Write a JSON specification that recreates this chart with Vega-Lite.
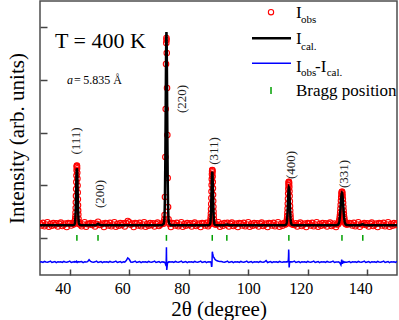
{
"$schema": "https://vega.github.io/schema/vega-lite/v6.json",
"width": 357, "height": 274,
"autosize": {"type": "none"},
"padding": {"left": 40, "top": 1, "right": 2, "bottom": 45},
"config": {"view": {"stroke": "#4d4d4d", "strokeWidth": 1.5}, "font": "Liberation Serif"},
"datasets": {
"p": [
{"x":30,"o":1550,"c":1490,"d":90},{"x":30.5,"o":1480,"c":1490,"d":105},{"x":31,"o":1580,"c":1490,"d":80},{"x":31.5,"o":1450,"c":1490,"d":115},{"x":32,"o":1520,"c":1490,"d":95},{"x":32.5,"o":1600,"c":1490,"d":85},{"x":33,"o":1430,"c":1490,"d":100},{"x":33.5,"o":1530,"c":1490,"d":125},{"x":34,"o":1470,"c":1490,"d":75},{"x":34.5,"o":1570,"c":1490,"d":95},{"x":35,"o":1500,"c":1490,"d":110},{"x":35.5,"o":1560,"c":1490,"d":70},{"x":36,"o":1440,"c":1490,"d":105},{"x":36.5,"o":1540,"c":1490,"d":90},{"x":37,"o":1590,"c":1490,"d":105},{"x":37.5,"o":1460,"c":1490,"d":80},{"x":38,"o":1510,"c":1490,"d":115},{"x":38.5,"o":1550,"c":1490,"d":95},{"x":39,"o":1420,"c":1490,"d":85},{"x":39.5,"o":1570,"c":1490,"d":100},{"x":40,"o":1550,"c":1490,"d":125},{"x":40.5,"o":1480,"c":1490,"d":75},{"x":41,"o":1580,"c":1490,"d":95},
{"x":41.4,"o":1523,"c":1503,"d":100},{"x":41.6,"o":1541,"c":1520,"d":90},{"x":41.7,"o":1575,"c":1553,"d":105},{"x":41.8,"o":1658,"c":1633,"d":95},{"x":41.85,"o":1732,"c":1704,"d":95},{"x":41.9,"o":1833,"c":1801,"d":100},{"x":41.95,"o":1971,"c":1935,"d":95},{"x":42,"o":2146,"c":2103,"d":95},{"x":42.05,"o":2357,"c":2306,"d":100},{"x":42.1,"o":2603,"c":2544,"d":100},{"x":42.15,"o":2865,"c":2797,"d":105},{"x":42.2,"o":3132,"c":3054,"d":110},{"x":42.25,"o":3376,"c":3289,"d":115},{"x":42.3,"o":3573,"c":3479,"d":120},{"x":42.35,"o":3703,"c":3605,"d":110},{"x":42.4,"o":3750,"c":3650,"d":90},{"x":42.425,"o":3739,"c":3639,"d":80},{"x":42.475,"o":3649,"c":3553,"d":75},{"x":42.525,"o":3481,"c":3391,"d":80},{"x":42.575,"o":3257,"c":3175,"d":85},{"x":42.625,"o":3000,"c":2926,"d":90},{"x":42.675,"o":2733,"c":2669,"d":95},{"x":42.725,"o":2478,"c":2423,"d":95},{"x":42.775,"o":2247,"c":2201,"d":100},{"x":42.825,"o":2052,"c":2013,"d":95},{"x":42.875,"o":1898,"c":1864,"d":95},{"x":42.95,"o":1732,"c":1704,"d":100},{"x":43.05,"o":1609,"c":1585,"d":95},{"x":43.15,"o":1555,"c":1533,"d":100},{"x":43.3,"o":1530,"c":1509,"d":95},{"x":43.5,"o":1521,"c":1501,"d":100},
{"x":44,"o":1450,"c":1490,"d":110},{"x":44.5,"o":1520,"c":1490,"d":70},{"x":45,"o":1600,"c":1490,"d":105},{"x":45.5,"o":1430,"c":1490,"d":90},{"x":46,"o":1530,"c":1490,"d":105},{"x":46.5,"o":1530,"c":1495,"d":180},{"x":47,"o":1570,"c":1490,"d":115},{"x":47.5,"o":1500,"c":1490,"d":95},{"x":48,"o":1560,"c":1490,"d":85},{"x":48.5,"o":1440,"c":1490,"d":100},{"x":49,"o":1540,"c":1500,"d":125},{"x":49.5,"o":1620,"c":1545,"d":75},{"x":50,"o":1500,"c":1505,"d":95},{"x":50.5,"o":1510,"c":1490,"d":110},{"x":51,"o":1550,"c":1490,"d":70},{"x":51.5,"o":1420,"c":1490,"d":105},{"x":52,"o":1570,"c":1490,"d":90},{"x":52.5,"o":1550,"c":1490,"d":105},{"x":53,"o":1480,"c":1490,"d":80},{"x":53.5,"o":1580,"c":1490,"d":115},{"x":54,"o":1450,"c":1490,"d":95},{"x":54.5,"o":1520,"c":1490,"d":85},{"x":55,"o":1600,"c":1490,"d":100},{"x":55.5,"o":1430,"c":1490,"d":125},{"x":56,"o":1530,"c":1490,"d":75},{"x":56.5,"o":1470,"c":1490,"d":95},{"x":57,"o":1570,"c":1490,"d":110},{"x":57.5,"o":1500,"c":1490,"d":70},{"x":58,"o":1560,"c":1490,"d":105},{"x":58.5,"o":1440,"c":1490,"d":90},{"x":59,"o":1570,"c":1490,"d":145},{"x":59.5,"o":1650,"c":1490,"d":250},{"x":60,"o":1600,"c":1490,"d":195},{"x":60.5,"o":1510,"c":1490,"d":95},{"x":61,"o":1550,"c":1490,"d":85},{"x":61.5,"o":1420,"c":1490,"d":100},{"x":62,"o":1570,"c":1490,"d":125},{"x":62.5,"o":1550,"c":1490,"d":75},{"x":63,"o":1480,"c":1490,"d":95},{"x":63.5,"o":1580,"c":1490,"d":110},{"x":64,"o":1450,"c":1490,"d":70},{"x":64.5,"o":1520,"c":1490,"d":105},{"x":65,"o":1600,"c":1490,"d":90},{"x":65.5,"o":1430,"c":1490,"d":105},{"x":66,"o":1530,"c":1490,"d":80},{"x":66.5,"o":1470,"c":1490,"d":115},{"x":67,"o":1570,"c":1490,"d":95},{"x":67.5,"o":1500,"c":1490,"d":85},{"x":68,"o":1560,"c":1490,"d":100},{"x":68.5,"o":1440,"c":1490,"d":125},{"x":69,"o":1540,"c":1490,"d":75},{"x":69.5,"o":1590,"c":1490,"d":95},{"x":70,"o":1460,"c":1490,"d":110},{"x":70.5,"o":1510,"c":1490,"d":70},{"x":71,"o":1550,"c":1490,"d":105},
{"x":71.5,"o":1550,"c":1534,"d":90},{"x":71.65,"o":1620,"c":1578,"d":100},{"x":71.8,"o":1715,"c":1703,"d":85},{"x":71.87,"o":1876,"c":1869,"d":75},{"x":72.004,"o":2560,"c":2575,"d":65},{"x":72.142,"o":4078,"c":4145,"d":40},{"x":72.255,"o":5900,"c":6036,"d":-20},{"x":72.363,"o":7609,"c":7804,"d":-40},{"x":72.445,"o":8406,"c":8625,"d":250},{"x":72.5,"o":8595,"c":8823,"d":650},{"x":72.535,"o":8520,"c":8742,"d":300},{"x":72.6,"o":8026,"c":8236,"d":-210},{"x":72.697,"o":6697,"c":6858,"d":-120},{"x":72.803,"o":4913,"c":5010,"d":10},{"x":72.92,"o":3281,"c":3323,"d":60},{"x":73.055,"o":2180,"c":2184,"d":80},{"x":73.2,"o":1715,"c":1703,"d":95},{"x":73.35,"o":1590,"c":1578,"d":90},{"x":73.5,"o":1540,"c":1534,"d":100},
{"x":74,"o":1420,"c":1490,"d":90},{"x":74.5,"o":1570,"c":1490,"d":105},{"x":75,"o":1550,"c":1490,"d":80},{"x":75.5,"o":1480,"c":1490,"d":115},{"x":76,"o":1580,"c":1490,"d":95},{"x":76.5,"o":1450,"c":1490,"d":85},{"x":77,"o":1520,"c":1490,"d":100},{"x":77.5,"o":1600,"c":1490,"d":125},{"x":78,"o":1430,"c":1490,"d":75},{"x":78.5,"o":1530,"c":1490,"d":95},{"x":79,"o":1470,"c":1490,"d":110},{"x":79.5,"o":1570,"c":1490,"d":70},{"x":80,"o":1500,"c":1490,"d":105},{"x":80.5,"o":1560,"c":1490,"d":90},{"x":81,"o":1440,"c":1490,"d":105},{"x":81.5,"o":1540,"c":1490,"d":80},{"x":82,"o":1590,"c":1490,"d":115},{"x":82.5,"o":1460,"c":1490,"d":95},{"x":83,"o":1510,"c":1490,"d":85},{"x":83.5,"o":1550,"c":1490,"d":100},{"x":84,"o":1420,"c":1490,"d":125},{"x":84.5,"o":1570,"c":1490,"d":75},{"x":85,"o":1550,"c":1490,"d":95},{"x":85.5,"o":1480,"c":1490,"d":110},{"x":86,"o":1580,"c":1490,"d":70},{"x":86.5,"o":1450,"c":1490,"d":105},
{"x":86.9,"o":1522,"c":1502,"d":95},{"x":87.1,"o":1539,"c":1518,"d":100},{"x":87.2,"o":1570,"c":1549,"d":95},{"x":87.3,"o":1647,"c":1624,"d":100},{"x":87.35,"o":1715,"c":1691,"d":95},{"x":87.4,"o":1809,"c":1782,"d":90},{"x":87.45,"o":1937,"c":1908,"d":85},{"x":87.5,"o":2099,"c":2067,"d":70},{"x":87.55,"o":2294,"c":2257,"d":40},{"x":87.6,"o":2523,"c":2481,"d":0},{"x":87.65,"o":2765,"c":2718,"d":-60},{"x":87.7,"o":3012,"c":2960,"d":-90},{"x":87.75,"o":3238,"c":3181,"d":-70},{"x":87.8,"o":3421,"c":3360,"d":20},{"x":87.85,"o":3541,"c":3477,"d":200},{"x":87.9,"o":3585,"c":3520,"d":420},{"x":87.925,"o":3575,"c":3510,"d":480},{"x":87.975,"o":3492,"c":3429,"d":460},{"x":88.025,"o":3336,"c":3276,"d":430},{"x":88.075,"o":3129,"c":3073,"d":400},{"x":88.125,"o":2890,"c":2840,"d":375},{"x":88.175,"o":2643,"c":2598,"d":350},{"x":88.225,"o":2406,"c":2367,"d":330},{"x":88.275,"o":2193,"c":2158,"d":310},{"x":88.325,"o":2012,"c":1981,"d":295},{"x":88.375,"o":1869,"c":1841,"d":280},{"x":88.45,"o":1715,"c":1691,"d":265},{"x":88.55,"o":1601,"c":1579,"d":245},{"x":88.65,"o":1552,"c":1531,"d":230},{"x":88.8,"o":1529,"c":1508,"d":200},{"x":89,"o":1520,"c":1500,"d":175},
{"x":89.5,"o":1520,"c":1490,"d":140},{"x":90,"o":1600,"c":1490,"d":120},{"x":90.5,"o":1430,"c":1490,"d":110},{"x":91,"o":1530,"c":1490,"d":115},{"x":91.5,"o":1470,"c":1490,"d":95},{"x":92,"o":1570,"c":1490,"d":85},{"x":92.5,"o":1520,"c":1505,"d":100},{"x":93,"o":1580,"c":1515,"d":125},{"x":93.5,"o":1440,"c":1495,"d":75},{"x":94,"o":1540,"c":1490,"d":95},{"x":94.5,"o":1590,"c":1490,"d":110},{"x":95,"o":1460,"c":1490,"d":70},{"x":95.5,"o":1510,"c":1490,"d":105},{"x":96,"o":1550,"c":1490,"d":90},{"x":96.5,"o":1420,"c":1490,"d":105},{"x":97,"o":1570,"c":1490,"d":80},{"x":97.5,"o":1550,"c":1490,"d":115},{"x":98,"o":1480,"c":1490,"d":95},{"x":98.5,"o":1580,"c":1490,"d":85},{"x":99,"o":1450,"c":1490,"d":100},{"x":99.5,"o":1520,"c":1490,"d":125},{"x":100,"o":1600,"c":1490,"d":75},{"x":100.5,"o":1430,"c":1490,"d":95},{"x":101,"o":1530,"c":1490,"d":110},{"x":101.5,"o":1470,"c":1490,"d":70},{"x":102,"o":1570,"c":1490,"d":105},{"x":102.5,"o":1500,"c":1490,"d":90},{"x":103,"o":1560,"c":1490,"d":105},{"x":103.5,"o":1440,"c":1490,"d":80},{"x":104,"o":1540,"c":1490,"d":115},{"x":104.5,"o":1590,"c":1490,"d":95},{"x":105,"o":1460,"c":1490,"d":85},{"x":105.5,"o":1510,"c":1490,"d":100},{"x":106,"o":1550,"c":1490,"d":150},{"x":106.5,"o":1420,"c":1490,"d":75},{"x":107,"o":1570,"c":1490,"d":95},{"x":107.5,"o":1550,"c":1490,"d":110},{"x":108,"o":1480,"c":1490,"d":70},{"x":108.5,"o":1580,"c":1490,"d":105},{"x":109,"o":1450,"c":1490,"d":90},{"x":109.5,"o":1520,"c":1490,"d":105},{"x":110,"o":1600,"c":1490,"d":80},{"x":110.5,"o":1430,"c":1490,"d":115},{"x":111,"o":1530,"c":1490,"d":95},{"x":111.5,"o":1470,"c":1490,"d":85},{"x":112,"o":1570,"c":1490,"d":100},
{"x":112.45,"o":1520,"c":1499,"d":95},{"x":112.69,"o":1533,"c":1510,"d":100},{"x":112.81,"o":1557,"c":1532,"d":95},{"x":112.93,"o":1618,"c":1585,"d":100},{"x":112.99,"o":1671,"c":1632,"d":95},{"x":113.05,"o":1745,"c":1697,"d":95},{"x":113.11,"o":1846,"c":1786,"d":100},{"x":113.17,"o":1973,"c":1898,"d":100},{"x":113.23,"o":2126,"c":2034,"d":105},{"x":113.29,"o":2305,"c":2192,"d":110},{"x":113.35,"o":2496,"c":2360,"d":120},{"x":113.41,"o":2690,"c":2531,"d":140},{"x":113.47,"o":2868,"c":2688,"d":180},{"x":113.53,"o":3011,"c":2814,"d":300},{"x":113.59,"o":3106,"c":2898,"d":570},{"x":113.65,"o":3140,"c":2928,"d":420},{"x":113.68,"o":3132,"c":2921,"d":150},{"x":113.74,"o":3067,"c":2863,"d":-110},{"x":113.8,"o":2944,"c":2755,"d":-60},{"x":113.86,"o":2781,"c":2612,"d":30},{"x":113.92,"o":2594,"c":2446,"d":80},{"x":113.98,"o":2400,"c":2275,"d":95},{"x":114.04,"o":2214,"c":2111,"d":100},{"x":114.1,"o":2046,"c":1963,"d":95},{"x":114.16,"o":1904,"c":1838,"d":100},{"x":114.22,"o":1792,"c":1739,"d":95},{"x":114.31,"o":1671,"c":1632,"d":100},{"x":114.43,"o":1582,"c":1553,"d":95},{"x":114.55,"o":1543,"c":1519,"d":100},{"x":114.73,"o":1525,"c":1503,"d":95},{"x":114.97,"o":1518,"c":1497,"d":100},
{"x":115.5,"o":1500,"c":1490,"d":125},{"x":116,"o":1560,"c":1490,"d":75},{"x":116.5,"o":1440,"c":1490,"d":95},{"x":117,"o":1540,"c":1490,"d":110},{"x":117.5,"o":1590,"c":1490,"d":70},{"x":118,"o":1460,"c":1490,"d":105},{"x":118.5,"o":1510,"c":1490,"d":90},{"x":119,"o":1550,"c":1490,"d":105},{"x":119.5,"o":1420,"c":1490,"d":80},{"x":120,"o":1570,"c":1490,"d":115},{"x":120.5,"o":1550,"c":1490,"d":95},{"x":121,"o":1480,"c":1490,"d":85},{"x":121.5,"o":1580,"c":1490,"d":100},{"x":122,"o":1450,"c":1490,"d":125},{"x":122.5,"o":1520,"c":1490,"d":75},{"x":123,"o":1600,"c":1490,"d":95},{"x":123.5,"o":1430,"c":1490,"d":110},{"x":124,"o":1530,"c":1490,"d":70},{"x":124.5,"o":1470,"c":1490,"d":105},{"x":125,"o":1570,"c":1490,"d":90},{"x":125.5,"o":1500,"c":1490,"d":105},{"x":126,"o":1560,"c":1490,"d":80},{"x":126.5,"o":1440,"c":1490,"d":115},{"x":127,"o":1540,"c":1490,"d":95},{"x":127.5,"o":1590,"c":1490,"d":85},{"x":128,"o":1460,"c":1490,"d":100},{"x":128.5,"o":1510,"c":1490,"d":125},{"x":129,"o":1550,"c":1490,"d":75},{"x":129.5,"o":1420,"c":1490,"d":95},
{"x":129.8,"o":1518,"c":1497,"d":95},{"x":130.14,"o":1528,"c":1507,"d":90},{"x":130.31,"o":1546,"c":1526,"d":100},{"x":130.48,"o":1593,"c":1571,"d":90},{"x":130.565,"o":1634,"c":1612,"d":85},{"x":130.65,"o":1690,"c":1668,"d":80},{"x":130.735,"o":1768,"c":1744,"d":70},{"x":130.82,"o":1865,"c":1840,"d":60},{"x":130.905,"o":1983,"c":1956,"d":40},{"x":130.99,"o":2120,"c":2092,"d":20},{"x":131.075,"o":2267,"c":2236,"d":0},{"x":131.16,"o":2416,"c":2383,"d":-20},{"x":131.245,"o":2552,"c":2517,"d":30},{"x":131.33,"o":2662,"c":2626,"d":120},{"x":131.415,"o":2735,"c":2697,"d":180},{"x":131.5,"o":2761,"c":2723,"d":120},{"x":131.54,"o":2755,"c":2717,"d":80},{"x":131.63,"o":2705,"c":2668,"d":30},{"x":131.71,"o":2611,"c":2575,"d":60},{"x":131.8,"o":2486,"c":2452,"d":140},{"x":131.88,"o":2342,"c":2310,"d":110},{"x":131.97,"o":2193,"c":2163,"d":80},{"x":132.05,"o":2050,"c":2023,"d":90},{"x":132.14,"o":1922,"c":1896,"d":100},{"x":132.22,"o":1813,"c":1788,"d":85},{"x":132.31,"o":1726,"c":1703,"d":90},{"x":132.44,"o":1634,"c":1612,"d":80},{"x":132.61,"o":1565,"c":1544,"d":85},{"x":132.78,"o":1535,"c":1515,"d":90},{"x":133.03,"o":1521,"c":1501,"d":85},{"x":133.37,"o":1516,"c":1496,"d":90},
{"x":134,"o":1570,"c":1490,"d":110},{"x":134.5,"o":1550,"c":1490,"d":70},{"x":135,"o":1480,"c":1490,"d":105},{"x":135.5,"o":1580,"c":1490,"d":90},{"x":136,"o":1450,"c":1490,"d":105},{"x":136.5,"o":1520,"c":1490,"d":80},{"x":137,"o":1600,"c":1490,"d":115},{"x":137.5,"o":1430,"c":1490,"d":95},{"x":138,"o":1530,"c":1505,"d":85},{"x":138.5,"o":1520,"c":1520,"d":100},{"x":139,"o":1570,"c":1500,"d":125},{"x":139.5,"o":1500,"c":1490,"d":75},{"x":140,"o":1560,"c":1490,"d":95},{"x":140.5,"o":1440,"c":1490,"d":110},{"x":141,"o":1540,"c":1490,"d":70},{"x":141.5,"o":1590,"c":1490,"d":105},{"x":142,"o":1460,"c":1490,"d":90},{"x":142.5,"o":1510,"c":1490,"d":105},{"x":143,"o":1550,"c":1490,"d":80},{"x":143.5,"o":1420,"c":1490,"d":115},{"x":144,"o":1570,"c":1490,"d":95},{"x":144.5,"o":1550,"c":1490,"d":85},{"x":145,"o":1480,"c":1490,"d":100},{"x":145.5,"o":1580,"c":1490,"d":125},{"x":146,"o":1450,"c":1490,"d":75},{"x":146.5,"o":1520,"c":1490,"d":95},{"x":147,"o":1600,"c":1490,"d":110},{"x":147.5,"o":1430,"c":1490,"d":70},{"x":148,"o":1530,"c":1490,"d":105},{"x":148.5,"o":1470,"c":1490,"d":90},{"x":149,"o":1570,"c":1490,"d":105},{"x":149.5,"o":1500,"c":1490,"d":80},{"x":150,"o":1560,"c":1490,"d":115}
],
"bragg": [{"b":42.4},{"b":49.5},{"b":72.5},{"b":87.9},{"b":92.8},{"b":113.65},{"b":131.5},{"b":138.5}],
"peaks": [{"x":42.1,"y":4690,"t":"(111)"},{"x":50.17,"y":2674,"t":"(200)"},{"x":77.73,"y":6280,"t":"(220)"},{"x":88.49,"y":4306,"t":"(311)"},{"x":114.37,"y":3775,"t":"(400)"},{"x":132.18,"y":3433,"t":"(331)"}],
"legI": [{"x":116.05,"y":9343,"t":"I"},{"x":116.05,"y":8368,"t":"I"},{"x":116.05,"y":7316,"t":"I"},{"x":122.44,"y":7316,"t":"-I"},{"x":116.05,"y":6394,"t":"Bragg position"}],
"legSub": [{"x":117.73,"y":9153,"t":"obs"},{"x":117.73,"y":8140,"t":"cal."},{"x":117.73,"y":7153,"t":"obs"},{"x":126.37,"y":7153,"t":"cal."}],
"legObs": [{"x":107.65,"y":9575}],
"legCal": [{"x1":101.26,"x2":114.37,"y":8584}],
"legDiff": [{"x1":101.26,"x2":114.37,"y":7635}],
"legBragg": [{"x":107.65,"y1":6470,"y2":6735}],
"tlab": [{"x":35.04,"y":8204,"t":"T = 400 K"}],
"alab": [{"x":39.08,"y":6849,"t":"a"}],
"eqlab": [{"x":41.43,"y":6849,"t":"="},{"x":44.55,"y":6849,"t":"5.835 Å"}]
},
"layer": [
{"data": {"name": "p"},
 "mark": {"type": "point", "shape": "circle", "filled": false, "color": "#ff0000", "size": 30, "strokeWidth": 1.1, "opacity": 1, "clip": true},
 "encoding": {
  "x": {"field": "x", "type": "quantitative", "scale": {"domain": [30, 150], "nice": false, "zero": false}, "title": "2θ (degree)",
   "axis": {"values": [40,50,60,70,80,90,100,110,120,130,140], "labelExpr": "datum.value % 20 === 0 ? datum.label : ''",
    "tickSize": {"condition": {"test": "datum.value % 20 === 0", "value": -6}, "value": -3},
    "labelOffset": {"condition": {"test": "datum.value === 100", "value": 0}, "value": -7},
    "labelPadding": 11, "domain": false, "grid": false, "tickColor": "#444", "tickWidth": 1.5,
    "labelFont": "Liberation Serif", "labelFontSize": 16, "labelColor": "#000", "labelFlush": false,
    "titleFont": "Liberation Serif", "titleFontSize": 21, "titleFontWeight": "normal", "titleColor": "#000", "titlePadding": 2}},
  "y": {"field": "o", "type": "quantitative", "scale": {"domain": [-400, 10000], "nice": false, "zero": false}, "title": "Intensity (arb. units)",
   "axis": {"values": [1000,2000,3000,4000,5000,6000,7000,8000,9000], "labels": false, "tickSize": -7, "domain": false, "grid": false,
    "tickColor": "#444", "tickWidth": 1.5, "titleFont": "Liberation Serif", "titleFontSize": 21, "titleFontWeight": "normal", "titleColor": "#000", "titlePadding": 12}}
 }},
{"data": {"name": "p"},
 "mark": {"type": "line", "color": "#000000", "strokeWidth": 2.5, "clip": true},
 "encoding": {"x": {"field": "x", "type": "quantitative", "title": "2θ (degree)"}, "y": {"field": "c", "type": "quantitative", "title": "Intensity (arb. units)"}}},
{"data": {"name": "p"},
 "mark": {"type": "line", "color": "#0000ff", "strokeWidth": 1.5, "clip": true},
 "encoding": {"x": {"field": "x", "type": "quantitative", "title": "2θ (degree)"}, "y": {"field": "d", "type": "quantitative", "title": "Intensity (arb. units)"}}},
{"data": {"name": "bragg"},
 "mark": {"type": "rule", "color": "#00a000", "strokeWidth": 1.5},
 "encoding": {"x": {"field": "b", "type": "quantitative", "title": "2θ (degree)"}, "y": {"datum": 900}, "y2": {"datum": 1120}}},
{"data": {"name": "peaks"},
 "mark": {"type": "text", "angle": 270, "fontSize": 13, "font": "Liberation Serif", "color": "#222", "align": "center", "baseline": "middle"},
 "encoding": {"x": {"field": "x", "type": "quantitative", "title": "2θ (degree)"}, "y": {"field": "y", "type": "quantitative", "title": "Intensity (arb. units)"}, "text": {"field": "t"}}},
{"data": {"name": "legObs"},
 "mark": {"type": "point", "shape": "circle", "filled": false, "color": "#ff0000", "size": 28, "strokeWidth": 1.1, "opacity": 1},
 "encoding": {"x": {"field": "x", "type": "quantitative", "title": "2θ (degree)"}, "y": {"field": "y", "type": "quantitative", "title": "Intensity (arb. units)"}}},
{"data": {"name": "legCal"},
 "mark": {"type": "rule", "color": "#000000", "strokeWidth": 2.5},
 "encoding": {"x": {"field": "x1", "type": "quantitative", "title": "2θ (degree)"}, "x2": {"field": "x2"}, "y": {"field": "y", "type": "quantitative", "title": "Intensity (arb. units)"}}},
{"data": {"name": "legDiff"},
 "mark": {"type": "rule", "color": "#0000ff", "strokeWidth": 1.5},
 "encoding": {"x": {"field": "x1", "type": "quantitative", "title": "2θ (degree)"}, "x2": {"field": "x2"}, "y": {"field": "y", "type": "quantitative", "title": "Intensity (arb. units)"}}},
{"data": {"name": "legBragg"},
 "mark": {"type": "rule", "color": "#00a000", "strokeWidth": 1.5},
 "encoding": {"x": {"field": "x", "type": "quantitative", "title": "2θ (degree)"}, "y": {"field": "y1", "type": "quantitative", "title": "Intensity (arb. units)"}, "y2": {"field": "y2"}}},
{"data": {"name": "legI"},
 "mark": {"type": "text", "fontSize": 17, "font": "Liberation Serif", "color": "#000", "align": "left", "baseline": "alphabetic"},
 "encoding": {"x": {"field": "x", "type": "quantitative", "title": "2θ (degree)"}, "y": {"field": "y", "type": "quantitative", "title": "Intensity (arb. units)"}, "text": {"field": "t"}}},
{"data": {"name": "legSub"},
 "mark": {"type": "text", "fontSize": 11, "font": "Liberation Serif", "color": "#000", "align": "left", "baseline": "alphabetic"},
 "encoding": {"x": {"field": "x", "type": "quantitative", "title": "2θ (degree)"}, "y": {"field": "y", "type": "quantitative", "title": "Intensity (arb. units)"}, "text": {"field": "t"}}},
{"data": {"name": "tlab"},
 "mark": {"type": "text", "fontSize": 22, "font": "Liberation Serif", "color": "#000", "align": "left", "baseline": "alphabetic"},
 "encoding": {"x": {"field": "x", "type": "quantitative", "title": "2θ (degree)"}, "y": {"field": "y", "type": "quantitative", "title": "Intensity (arb. units)"}, "text": {"field": "t"}}},
{"data": {"name": "alab"},
 "mark": {"type": "text", "fontSize": 12, "font": "Liberation Serif", "fontStyle": "italic", "color": "#000", "align": "left", "baseline": "alphabetic"},
 "encoding": {"x": {"field": "x", "type": "quantitative", "title": "2θ (degree)"}, "y": {"field": "y", "type": "quantitative", "title": "Intensity (arb. units)"}, "text": {"field": "t"}}},
{"data": {"name": "eqlab"},
 "mark": {"type": "text", "fontSize": 12, "font": "Liberation Serif", "color": "#000", "align": "left", "baseline": "alphabetic"},
 "encoding": {"x": {"field": "x", "type": "quantitative", "title": "2θ (degree)"}, "y": {"field": "y", "type": "quantitative", "title": "Intensity (arb. units)"}, "text": {"field": "t"}}}
]
}
